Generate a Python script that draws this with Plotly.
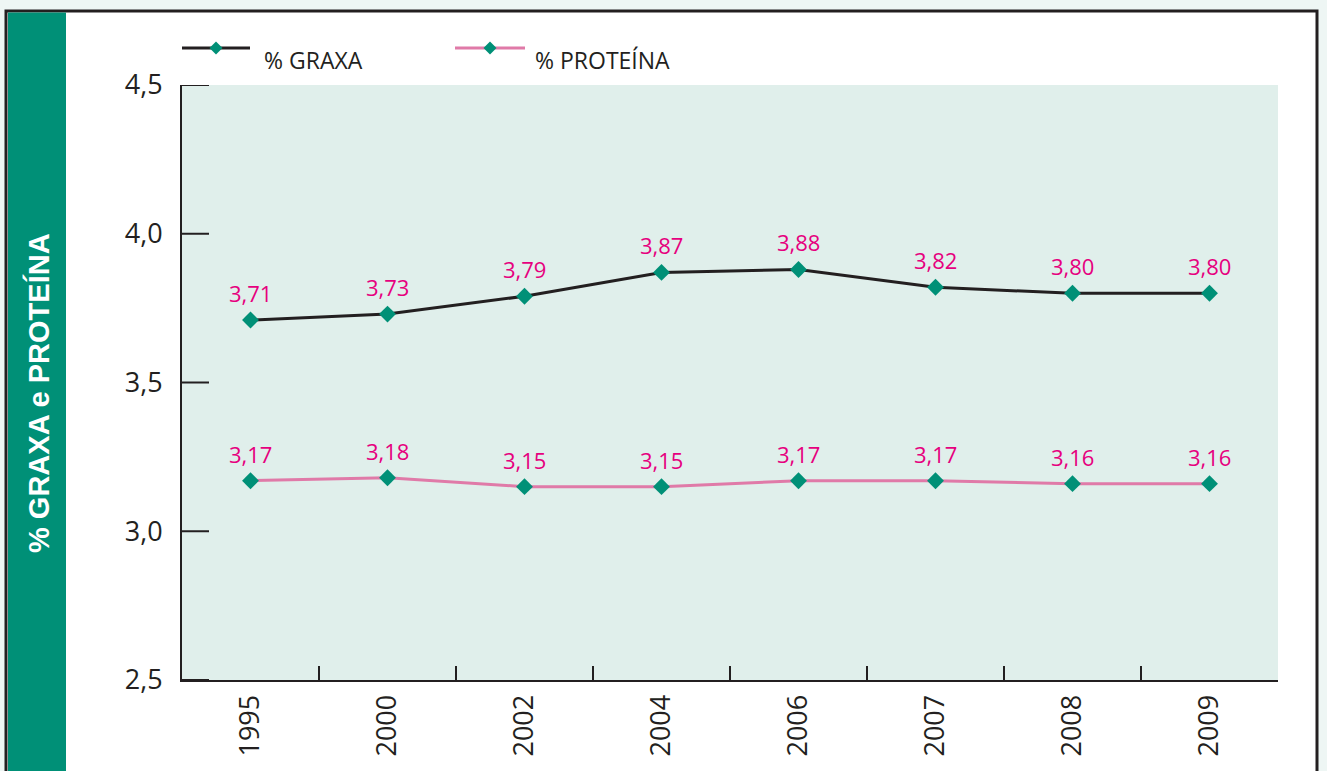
import plotly.graph_objects as go

years = ["1995", "2000", "2002", "2004", "2006", "2007", "2008", "2009"]
graxa = [3.71, 3.73, 3.79, 3.87, 3.88, 3.82, 3.80, 3.80]
proteina = [3.17, 3.18, 3.15, 3.15, 3.17, 3.17, 3.16, 3.16]
y_ticks = [2.5, 3.0, 3.5, 4.0, 4.5]
series_names = ["% GRAXA", "% PROTEÍNA"]
y_title = "% GRAXA e PROTEÍNA"

W, H = 1327, 771
L, R, T, B = 182, 49, 85, 91
PW, PH = W - L - R, H - T - B

def px(x):
    return (x - L) / PW

def py(y):
    return (H - B - y) / PH

BLACK = "#231f20"
TEAL = "#009077"
PINK = "#e07aa8"
MAGENTA = "#e6007e"
PLOTBG = "#e0efeb"
FONT = "Open Sans"

fig = go.Figure()
fig.add_trace(go.Scatter(x=years, y=graxa, mode="lines+markers", name=series_names[0],
                         line=dict(color=BLACK, width=3),
                         marker=dict(symbol="diamond", size=13, color=TEAL)))
fig.add_trace(go.Scatter(x=years, y=proteina, mode="lines+markers", name=series_names[1],
                         line=dict(color=PINK, width=3),
                         marker=dict(symbol="diamond", size=13, color=TEAL)))

annotations = []
for series in (graxa, proteina):
    for i, v in enumerate(series):
        annotations.append(dict(x=i, y=v, xref="x", yref="y", text=f"{v:.2f}".replace(".", ","),
                                showarrow=False, yshift=27,
                                font=dict(family=FONT, size=22, color=MAGENTA)))

shapes = [
    dict(type="rect", xref="paper", yref="paper", x0=px(6), x1=px(1317), y0=py(800), y1=py(11),
         fillcolor="white", line=dict(color=BLACK, width=3), layer="below"),
    dict(type="rect", xref="paper", yref="paper", x0=px(8), x1=px(66), y0=py(800), y1=py(12.5),
         fillcolor=TEAL, line=dict(width=0), layer="below"),
    dict(type="rect", xref="paper", yref="paper", x0=0, x1=1, y0=0, y1=1,
         fillcolor=PLOTBG, line=dict(width=0), layer="below"),
]

# inside tick marks on the value axis
for t in y_ticks:
    shapes.append(dict(type="line", xref="paper", yref="y", x0=0, x1=27 / PW, y0=t, y1=t,
                       line=dict(color=BLACK, width=2)))

legend_items = [(182, 250, 262, BLACK, series_names[0]), (455, 525, 533, PINK, series_names[1])]
ly = 48
for x0, x1, tx, col, name in legend_items:
    shapes.append(dict(type="line", xref="paper", yref="paper", x0=px(x0), x1=px(x1),
                       y0=py(ly), y1=py(ly), line=dict(color=col, width=3)))
    cx = (x0 + x1) / 2
    d = 6.5
    path = (f"M {px(cx - d)} {py(ly)} L {px(cx)} {py(ly - d)} L {px(cx + d)} {py(ly)} "
            f"L {px(cx)} {py(ly + d)} Z")
    shapes.append(dict(type="path", xref="paper", yref="paper", path=path,
                       fillcolor=TEAL, line=dict(width=0)))
    annotations.append(dict(x=px(tx), y=py(60), xref="paper", yref="paper", text=name,
                            showarrow=False, xanchor="left", yanchor="middle",
                            font=dict(family=FONT, size=23, color=BLACK)))

annotations.append(dict(x=px(39), y=py(393), xref="paper", yref="paper", text=f"<b>{y_title}</b>",
                        showarrow=False, textangle=-90, xanchor="center", yanchor="middle",
                        font=dict(family="Liberation Sans", size=29, color="white")))

fig.update_layout(
    width=W, height=H,
    margin=dict(l=L, r=R, t=T, b=B, autoexpand=False),
    paper_bgcolor="#eef6f4",
    plot_bgcolor="rgba(0,0,0,0)",
    separators=",.",
    showlegend=False,
    shapes=shapes,
    annotations=annotations,
    xaxis=dict(type="category", range=[-0.5, 7.5], tickson="boundaries", ticks="inside",
               ticklen=14, tickwidth=2, tickcolor=BLACK, showline=True, linewidth=2,
               linecolor=BLACK, showgrid=False, zeroline=False, tickangle=-90,
               ticklabelstandoff=2,
               tickfont=dict(family=FONT, size=27, color=BLACK)),
    yaxis=dict(range=[2.5, 4.5], tickmode="array", tickvals=y_ticks, tickformat=".1f",
               ticks="", showline=True, linewidth=2,
               linecolor=BLACK, showgrid=False, zeroline=False, ticklabelstandoff=12,
               tickfont=dict(family=FONT, size=27, color=BLACK)),
)

fig.write_html("out.html", post_script="document.body.style.margin='0';",
               config={"displayModeBar": False})
